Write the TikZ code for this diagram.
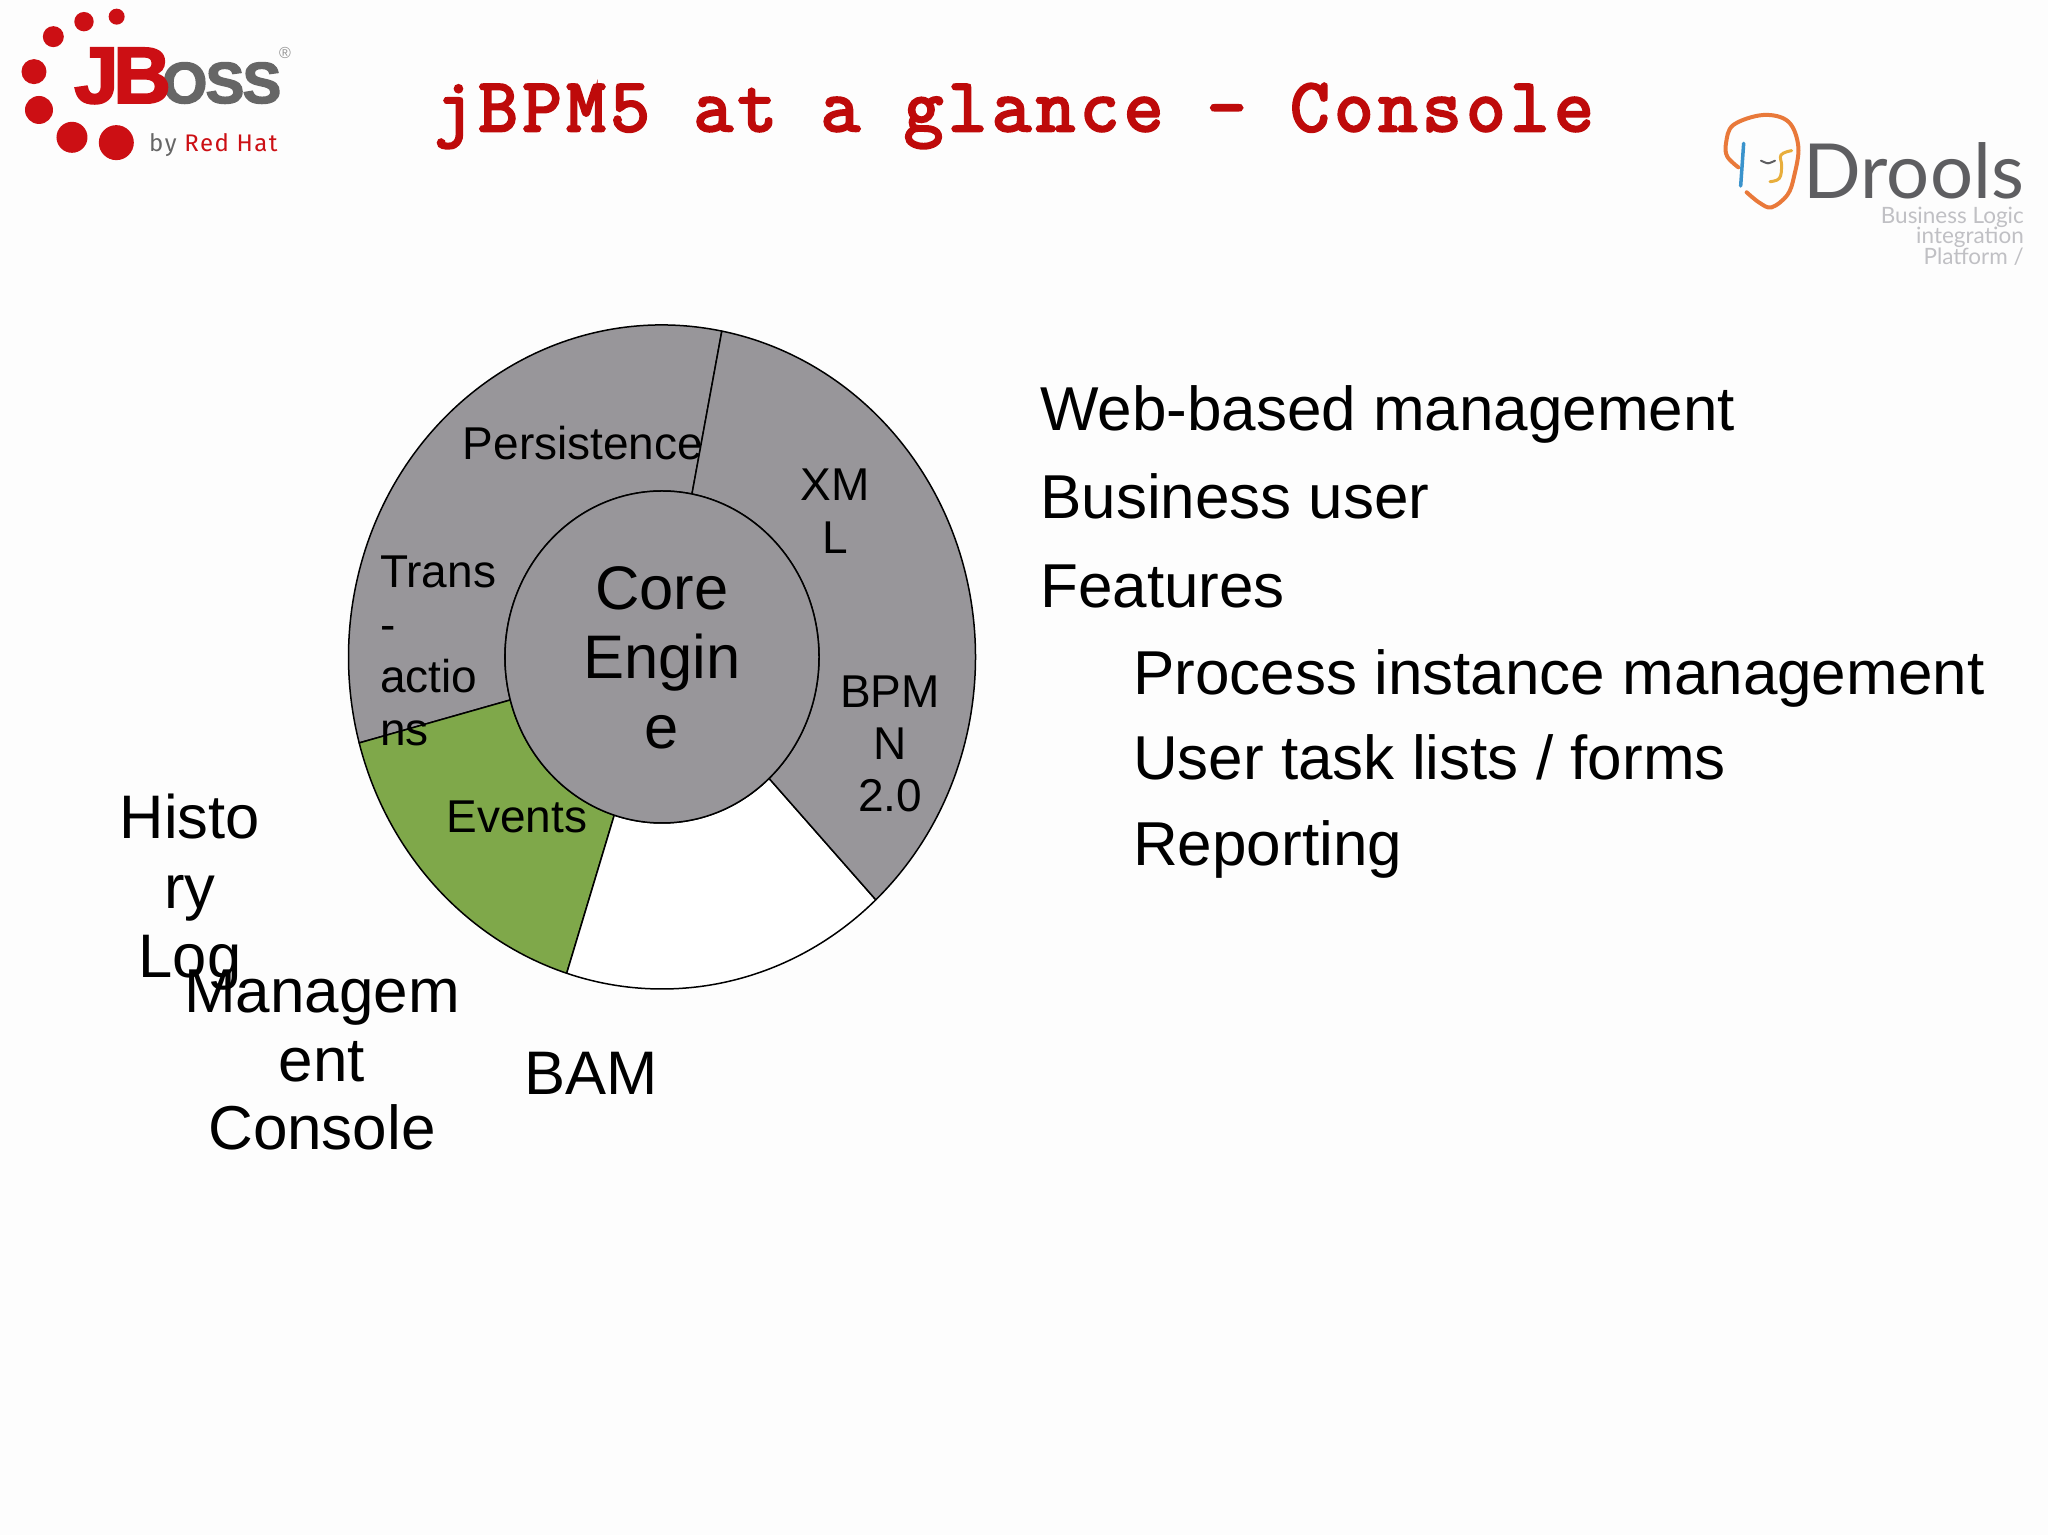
\documentclass[tikz,border=0pt]{standalone}
\usepackage{fontspec}
\setmainfont{Liberation Sans}
\newfontfamily\titlefont[FakeBold=3.5,LetterSpace=6.4]{Latin Modern Mono}
\newfontfamily\droolsfont{Lato}
\newfontfamily\redhatfont[LetterSpace=6]{Fira Sans}
\definecolor{bgc}{HTML}{FDFDFD}
\definecolor{seggray}{HTML}{98969A}
\definecolor{seggreen}{HTML}{7FA84A}
\definecolor{titlered}{HTML}{BE0A0A}
\definecolor{jbred}{HTML}{CC0F14}
\definecolor{jbgray}{HTML}{666666}
\definecolor{drgray}{HTML}{5E5E61}
\definecolor{drlight}{HTML}{C0C0C4}
\definecolor{faceorange}{HTML}{E9793A}
\definecolor{faceblue}{HTML}{3A93CC}
\definecolor{faceyellow}{HTML}{E8AE3C}
\newcommand{\sizep}[2]{\fontsize{#1}{#2}\selectfont}
\tikzset{
  seg/.style={draw=black,line width=1.5pt,line join=round},
  small/.style={font=\sizep{46}{52.4},text=black,inner sep=0pt,align=center},
  big/.style={font=\sizep{61.5}{69.4},text=black,inner sep=0pt,align=center},
  body/.style={font=\sizep{62}{70},text=black,inner sep=0pt,anchor=base west},
  dot/.style={fill=jbred,draw=none},
}
\begin{document}
\begin{tikzpicture}[x=1pt,y=1pt]
\path[use as bounding box,fill=bgc] (0,0) rectangle (2048,1535);
\coordinate (c) at (662,878);
\def\Ox{313.5pt}\def\Oy{332pt}\def\Ix{157pt}\def\Iy{166pt}
\newcommand{\ringseg}[3]{\draw[seg,fill=#3] ([shift={(#1:\Ox\space and \Oy)}]c) arc[start angle=#1,end angle=#2,x radius=\Ox,y radius=\Oy] -- ([shift={(#2:\Ix\space and \Iy)}]c) arc[start angle=#2,end angle=#1,x radius=\Ix,y radius=\Iy] -- cycle;}
\ringseg{79}{195}{seggray}
\ringseg{195}{252.3}{seggreen}
\ringseg{252.3}{313}{white}
\ringseg{313}{439}{seggray}
\draw[seg,fill=seggray] (c) ellipse[x radius=\Ix,y radius=\Iy];
\begin{scope}[yshift=1535pt,y=-1pt]
\node[inner sep=0,anchor=base,text=titlered,font=\titlefont\sizep{76}{76}] (title) at (1014,131) {jBPM5 at a glance – Console};
\node[big] (core) at (662,657.5) {Core\\Engin\\e};
\node[small] (persist) at (583,443) {Persistence};
\node[small] (xml) at (835,511) {XM\\L};
\node[small] (bpmn) at (890,744) {BPM\\N\\2.0};
\node[small] (events) at (517,817) {Events};
\node[small,align=left,anchor=west] (trans) at (380,651) {Trans\\-\\actio\\ns};
\node[big] (history) at (190,892.5) {Histo\\ry\\Log};
\node[font=\sizep{62}{68.5},text=black,inner sep=0pt,align=center] (mgmt) at (322,1060) {Managem\\ent\\Console};
\node[big] (bam) at (591.5,1073.5) {BAM};
\node[body] (b1) at (1040,431) {Web-based management};
\node[body] (b2) at (1040,519) {Business user};
\node[body] (b3) at (1040,608) {Features};
\node[body] (b4) at (1133,694.5) {Process instance management};
\node[body] (b5) at (1133,780) {User task lists / forms};
\node[body] (b6) at (1133,866) {Reporting};
% JBoss logo
\begin{scope}[x=.3333pt,y=-.3333pt]
\fill[dot] (350,50) circle[radius=8pt];
\fill[dot] (252,65) circle[radius=9.7pt];
\fill[dot] (160,110) circle[radius=10.5pt];
\fill[dot] (102,215) circle[radius=12.5pt];
\fill[dot] (117,330) circle[radius=14pt];
\fill[dot] (216,412) circle[radius=15.5pt];
\fill[dot] (349,428) circle[radius=17.5pt];
\end{scope}
\node[inner sep=0,anchor=base west,text=jbgray,font=\bfseries\sizep{58}{58}] (oss) at (162,103) {\addfontfeature{FakeBold=2.5,LetterSpace=-3}OSS};
\node[inner sep=0,anchor=base west,text=jbred,font=\bfseries\sizep{80}{80}] (jb) at (74,103) {\addfontfeature{FakeBold=2.5,LetterSpace=-7}JB};
\node[inner sep=0,anchor=center,text=jbgray!70,font=\sizep{16}{16}] (reg) at (285,53) {®};
\node[inner sep=0,anchor=base west,font=\redhatfont\sizep{24}{24}] (rh) at (149,152) {\textcolor{jbgray}{by} \textcolor{jbred}{Red Hat}};
% Drools logo
\begin{scope}[shift={(1700,90)},x=.3333pt,y=-.3333pt]
\draw[faceorange,line width=4pt,line cap=round] plot[smooth,tension=.6] coordinates {(115,232) (82,200) (78,160) (100,105) (190,75) (265,95) (295,170) (282,260) (262,315) (215,352) (178,338) (140,307)};
\draw[faceblue,line width=3.5pt,line cap=round] (131,160) -- (122,288);
\draw[drgray,line width=2pt,line cap=round] plot[smooth] coordinates {(183,212) (204,220) (225,212)};
\draw[faceyellow,line width=3pt,line cap=round] plot[smooth,tension=.7] coordinates {(275,182) (243,195) (245,228) (238,265) (210,275)};
\end{scope}
\node[inner sep=0,anchor=base east,text=drgray,font=\droolsfont\sizep{76}{76}] (drools) at (2024,199) {Drools};
\node[inner sep=0,anchor=base east,text=drlight,font=\droolsfont\sizep{22.5}{22.5}] (d1) at (2024,224) {Business Logic};
\node[inner sep=0,anchor=base east,text=drlight,font=\droolsfont\sizep{22.5}{22.5}] (d2) at (2024,244) {integration};
\node[inner sep=0,anchor=base east,text=drlight,font=\droolsfont\sizep{22.5}{22.5}] (d3) at (2024,265) {Platform /};
\end{scope}
\end{tikzpicture}
\end{document}
